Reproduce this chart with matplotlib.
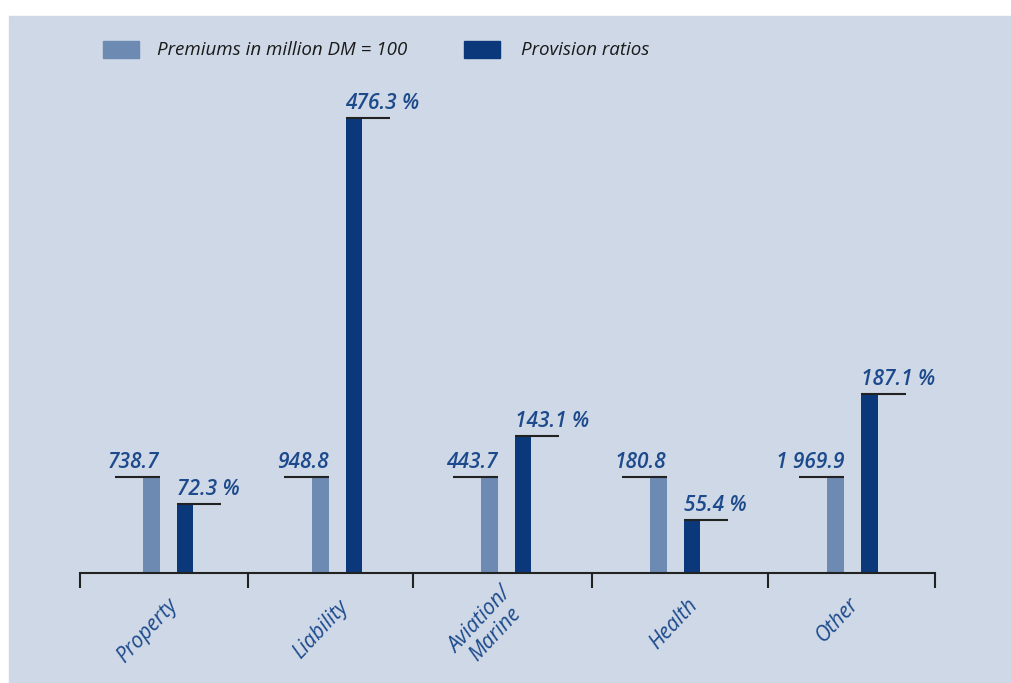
import matplotlib.pyplot as plt
from matplotlib.patches import Rectangle
import numpy as np

categories = ["Property", "Liability", "Aviation/\nMarine", "Health", "Other"]
premiums = [738.7, 948.8, 443.7, 180.8, 1969.9]   # million DM, drawn as index 100
premium_index = [100, 100, 100, 100, 100]
provision_ratios = [72.3, 476.3, 143.1, 55.4, 187.1]  # %

# layout: group centres (the last group sits a bit further right in the original)
group_x = np.array([0, 1, 2, 3, 4.05])
label_offsets = [(-15, -42), (-12, -41), (-13, -39), (-1, -37), (-11, -34)]  # points

bg = "#ced8e6"
c_prem = "#6d8ab3"
c_prov = "#0a387a"
c_text = "#1d4a8c"
font = ["Open Sans", "DejaVu Sans"]

W, H = 1012, 683
fig = plt.figure(figsize=(W / 100, H / 100), dpi=100)
fig.patches.append(Rectangle((9 / W, 0), 1 - 9 / W, (H - 16) / H,
                             transform=fig.transFigure, color=bg, zorder=-1))

ax = fig.add_axes([80 / W, (H - 573) / H, (935 - 80) / W, (573 - 60) / H])
ax.set_facecolor("none")
ax.set_zorder(2)

bw = 0.1
ax.bar(group_x - bw, premium_index, bw, color=c_prem, zorder=2)
ax.bar(group_x + bw, provision_ratios, bw, color=c_prov, zorder=2)

line_len = 0.266
for i, gx in enumerate(group_x):
    # premium label: line to the left of the bar top
    ax.plot([gx - bw / 2 - line_len, gx - bw / 2], [premium_index[i]] * 2,
            color="#222222", lw=1.5, zorder=3, solid_capstyle="butt")
    lab = f"{premiums[i]:,.1f}".replace(",", " ")
    ax.annotate(lab, (gx - bw / 2, premium_index[i]), xytext=(0, 3),
                textcoords="offset points", ha="right", va="bottom",
                fontsize=15, style="italic", fontweight="semibold",
                color=c_text, family=font)
    # provision label: line to the right of the bar top
    ax.plot([gx + bw / 2, gx + bw / 2 + line_len], [provision_ratios[i]] * 2,
            color="#222222", lw=1.5, zorder=3, solid_capstyle="butt")
    ax.annotate(f"{provision_ratios[i]:.1f} %", (gx + bw / 2, provision_ratios[i]),
                xytext=(0, 3), textcoords="offset points", ha="left", va="bottom",
                fontsize=15, style="italic", fontweight="semibold",
                color=c_text, family=font)
    ax.annotate(categories[i], (gx, 0), xytext=label_offsets[i], textcoords="offset points",
                ha="center", va="center", rotation=47, fontsize=15,
                style="italic", color=c_text, family=font, linespacing=1.0,
                multialignment="center", annotation_clip=False)

ax.set_xlim(-0.521, 4.538)
ax.set_ylim(0, 537)
ax.set_xticks([-0.521, 0.473, 1.45, 2.509, 3.55, 4.538])
ax.set_xticklabels([])
ax.set_yticks([])
ax.tick_params(axis="x", direction="out", length=11, width=1.5, color="#222222")
for s in ["left", "top", "right"]:
    ax.spines[s].set_visible(False)
ax.spines["bottom"].set_linewidth(1.5)
ax.spines["bottom"].set_color("#222222")
ax.spines["bottom"].set_zorder(4)

# legend
fig.patches.append(Rectangle((103 / W, 1 - 58 / H), 36 / W, 17 / H,
                             transform=fig.transFigure, color=c_prem))
fig.patches.append(Rectangle((464 / W, 1 - 58 / H), 36 / W, 17 / H,
                             transform=fig.transFigure, color=c_prov))
fig.text(157 / W, 1 - 50 / H, "Premiums in million DM = 100", ha="left", va="center",
         fontsize=13.5, style="italic", color="#1a1a1a", family=font)
fig.text(521 / W, 1 - 50 / H, "Provision ratios", ha="left", va="center",
         fontsize=13.5, style="italic", color="#1a1a1a", family=font)

fig.savefig("out.png", dpi=100, facecolor="white")
